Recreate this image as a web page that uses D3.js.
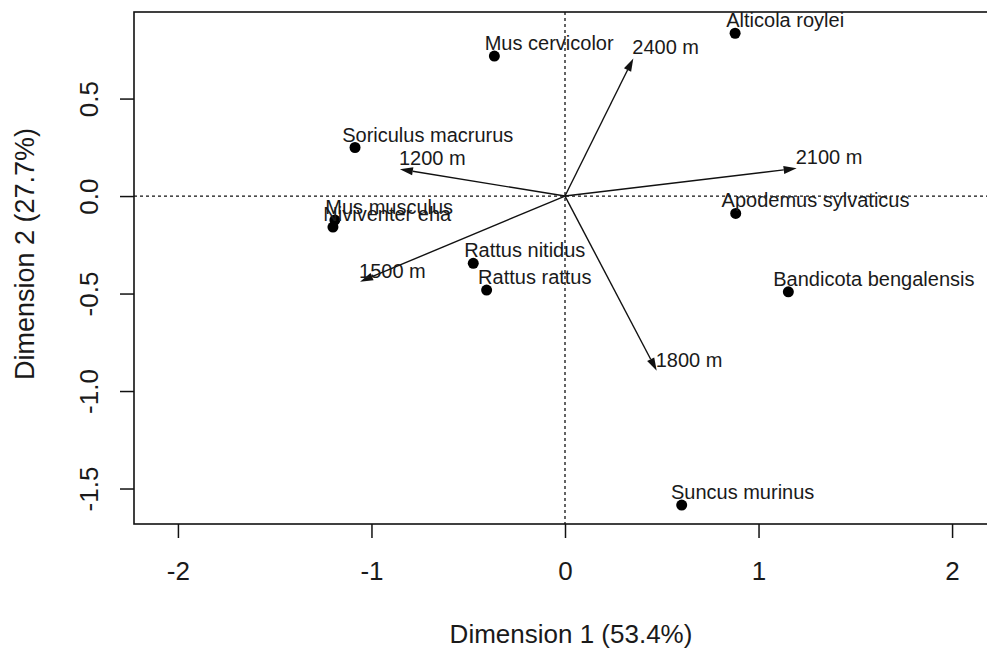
<!DOCTYPE html>
<html>
<head>
<meta charset="utf-8">
<script src="https://cdn.jsdelivr.net/npm/d3@7"></script>
<style>
  body { margin: 0; background: #fff; }
  svg text { font-family: "Liberation Sans", Arial, sans-serif; fill: #1a1a1a; }
</style>
</head>
<body>
<div id="chart"></div>
<script>
// species scores on the first two dimensions
const species = ["Alticola roylei", "Mus cervicolor", "Soriculus macrurus", "Mus musculus",
    "Niviventer eha", "Rattus nitidus", "Rattus rattus", "Apodemus sylvaticus",
    "Bandicota bengalensis", "Suncus murinus"];
const dim1 = [0.879, -0.365, -1.085, -1.189, -1.199, -0.474, -0.405, 0.882, 1.154, 0.603];
const dim2 = [0.835, 0.718, 0.249, -0.123, -0.159, -0.345, -0.482, -0.089, -0.491, -1.585];

// altitude vectors
const altitudes = ["2400 m", "2100 m", "1200 m", "1500 m", "1800 m"];
const vecX = [0.353, 1.197, -0.853, -1.059, 0.474];
const vecY = [0.706, 0.142, 0.138, -0.439, -0.896];

const xTicks = [-2, -1, 0, 1, 2];
const yTicks = [-1.5, -1.0, -0.5, 0.0, 0.5];
const xTitle = "Dimension 1 (53.4%)";
const yTitle = "Dimension 2 (27.7%)";

const width = 987, height = 650;
const margin = { top: 12, right: -21, bottom: 126, left: 134 };

const svg = d3.select("#chart")
    .append("svg")
    .attr("width", width)
    .attr("height", height);

const x = d3.scaleLinear()
    .domain([-2.227, 2.289])
    .range([margin.left, width - margin.right]);
const y = d3.scaleLinear()
    .domain([-1.682, 0.944])
    .range([height - margin.bottom, margin.top]);

// reference lines through the origin
svg.append("line")
    .attr("x1", x(0)).attr("x2", x(0))
    .attr("y1", margin.top).attr("y2", height - margin.bottom)
    .attr("stroke", "#111").attr("stroke-width", 1.3)
    .attr("stroke-dasharray", "3,3");
svg.append("line")
    .attr("x1", margin.left).attr("x2", width - margin.right)
    .attr("y1", y(0)).attr("y2", y(0))
    .attr("stroke", "#111").attr("stroke-width", 1.3)
    .attr("stroke-dasharray", "3,3");

// x axis
const xAxis = svg.append("g")
    .attr("transform", "translate(0," + (height - margin.bottom) + ")")
    .call(d3.axisBottom(x).tickValues(xTicks).tickSize(14).tickFormat(d => String(d)));
xAxis.select(".domain").remove();
xAxis.selectAll(".tick line").attr("stroke", "#111").attr("stroke-width", 1.5);
xAxis.selectAll(".tick text")
    .attr("y", 56).attr("dy", 0)
    .style("font-size", "26px")
    .style("font-family", "'Liberation Sans', Arial, sans-serif")
    .attr("fill", "#1a1a1a");

// y axis, labels rotated like base R
const yAxis = svg.append("g")
    .attr("transform", "translate(" + margin.left + ",0)")
    .call(d3.axisLeft(y).tickValues(yTicks).tickSize(14).tickFormat(d => d.toFixed(1)));
yAxis.select(".domain").remove();
yAxis.selectAll(".tick line").attr("stroke", "#111").attr("stroke-width", 1.5);
yAxis.selectAll(".tick text")
    .attr("transform", "rotate(-90)")
    .attr("x", 0).attr("y", -36).attr("dy", 0)
    .attr("text-anchor", "middle")
    .style("font-size", "26px")
    .style("font-family", "'Liberation Sans', Arial, sans-serif")
    .attr("fill", "#1a1a1a");

// frame
svg.append("rect")
    .attr("x", margin.left).attr("y", margin.top)
    .attr("width", width - margin.right - margin.left)
    .attr("height", height - margin.bottom - margin.top)
    .attr("fill", "none").attr("stroke", "#111").attr("stroke-width", 1.6);

// axis titles
svg.append("text")
    .attr("x", 571).attr("y", 643)
    .attr("text-anchor", "middle")
    .style("font-size", "26px")
    .text(xTitle);
svg.append("text")
    .attr("transform", "translate(34,254) rotate(-90)")
    .attr("text-anchor", "middle")
    .style("font-size", "27px")
    .text(yTitle);

// arrows
const arrows = altitudes.map((a, i) => ({ label: a, x: vecX[i], y: vecY[i] }));
const headLen = 13, headHalf = 4;
arrows.forEach(d => {
    const x0 = x(0), y0 = y(0), x1 = x(d.x), y1 = y(d.y);
    const ang = Math.atan2(y1 - y0, x1 - x0);
    const bx = x1 - headLen * Math.cos(ang), by = y1 - headLen * Math.sin(ang);
    svg.append("line")
        .attr("x1", x0).attr("y1", y0).attr("x2", bx).attr("y2", by)
        .attr("stroke", "#111").attr("stroke-width", 1.4);
    const px = -Math.sin(ang) * headHalf, py = Math.cos(ang) * headHalf;
    svg.append("path")
        .attr("d", "M" + x1 + "," + y1 + "L" + (bx + px) + "," + (by + py) +
            "L" + (bx - px) + "," + (by - py) + "Z")
        .attr("fill", "#111");
    svg.append("text")
        .attr("x", x1 - 1).attr("y", y1 - 4)
        .style("font-size", "20px")
        .text(d.label);
});

// species points and labels
const pts = species.map((s, i) => ({ name: s, x: dim1[i], y: dim2[i] }));
svg.selectAll("circle.sp")
    .data(pts)
    .join("circle")
    .classed("sp", true)
    .attr("cx", d => x(d.x))
    .attr("cy", d => y(d.y))
    .attr("r", 5.5)
    .attr("fill", "#000");

svg.selectAll("text.sp")
    .data(pts)
    .join("text")
    .classed("sp", true)
    .attr("y", d => y(d.y) - 6)
    .style("font-size", "20px")
    .text(d => d.name)
    .attr("x", function (d) {
        const w = this.getComputedTextLength();
        return x(d.x) - 0.075 * w;
    });
</script>
</body>
</html>
